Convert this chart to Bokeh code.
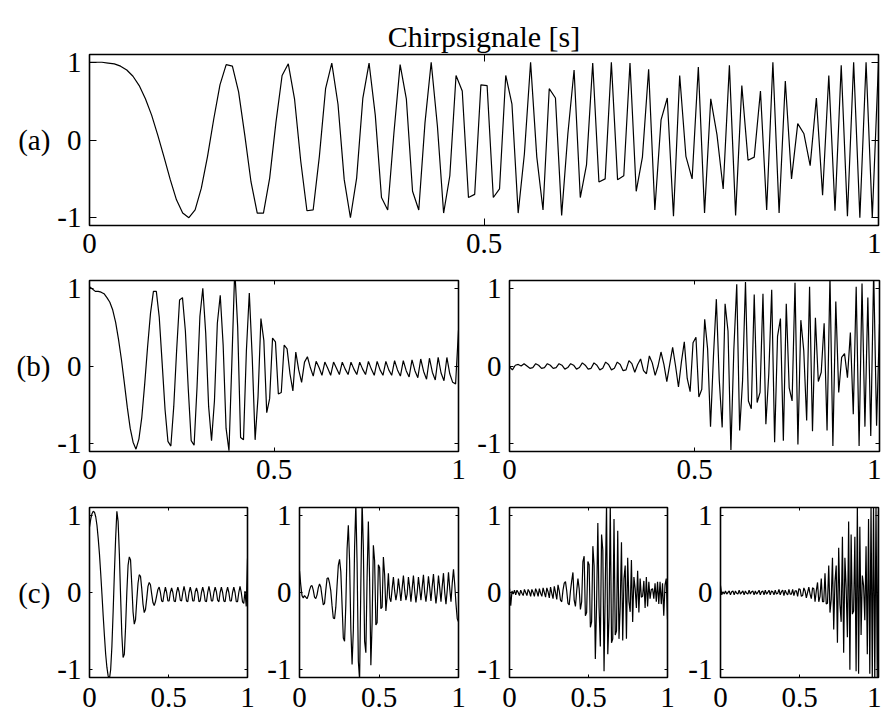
import numpy as np
from bokeh.plotting import figure
from bokeh.layouts import column, row
from bokeh.models import LinearAxis, FixedTicker, Range1d
from bokeh.embed import file_html
from bokeh.resources import INLINE

# ---- signal data (128 samples on [0, 1] each) ----
chirp = [
    1.00, 1.00, 1.00, 0.99, 0.98, 0.95, 0.90, 0.82, 0.70, 0.53, 0.32, 0.06, -0.22, -0.51, -0.77, -0.94,
    -1.00, -0.90, -0.62, -0.21, 0.27, 0.71, 0.97, 0.95, 0.62, 0.06, -0.54, -0.94, -0.94, -0.49, 0.22, 0.83,
    0.98, 0.53, -0.27, -0.91, -0.90, -0.21, 0.66, 0.99, 0.46, -0.51, -1.00, -0.49, 0.54, 0.99, 0.32, -0.74,
    -0.90, 0.09, 0.97, 0.53, -0.66, -0.90, 0.22, 1.00, 0.18, -0.94, -0.46, 0.83, 0.63, -0.74, -0.70, 0.71,
    0.70, -0.74, -0.63, 0.83, 0.46, -0.94, -0.18, 1.00, -0.22, -0.90, 0.66, 0.54, -0.97, 0.08, 0.90, -0.74,
    -0.32, 0.99, -0.54, -0.50, 1.00, -0.51, -0.46, 0.99, -0.66, -0.22, 0.91, -0.90, 0.26, 0.54, -0.98, 0.83,
    -0.21, -0.50, 0.94, -0.94, 0.53, 0.07, -0.63, 0.96, -0.97, 0.70, -0.26, -0.22, 0.63, -0.90, 1.00, -0.94,
    0.76, -0.50, 0.21, 0.08, -0.33, 0.54, -0.71, 0.83, -0.91, 0.96, -0.98, 1.00, -1.00, 1.00, -1.00, 1.00,
]

band_low = [
    1.02, 0.99, 0.96, 0.96, 0.95, 0.93, 0.88, 0.82, 0.72, 0.56, 0.34, 0.08, -0.22, -0.53, -0.80, -0.98,
    -1.07, -0.94, -0.66, -0.23, 0.25, 0.68, 0.96, 0.96, 0.63, 0.04, -0.56, -0.97, -1.03, -0.52, 0.21, 0.85,
    0.88, 0.45, -0.30, -0.96, -1.02, -0.28, 0.64, 1.00, 0.42, -0.52, -0.96, -0.45, 0.55, 0.91, 0.27, -0.80,
    -1.09, 0.05, 1.25, 0.50, -0.92, -0.95, 0.20, 0.94, 0.12, -0.95, -0.40, 0.61, 0.33, -0.60, -0.42, 0.36,
    0.31, -0.36, -0.34, 0.27, 0.22, -0.10, -0.32, 0.18, -0.05, -0.21, 0.05, 0.12, -0.02, -0.13, 0.06, -0.02,
    -0.12, 0.05, -0.03, -0.12, 0.05, -0.03, -0.11, 0.05, -0.04, -0.11, 0.05, -0.04, -0.11, 0.05, -0.04, -0.11,
    0.06, -0.04, -0.12, 0.06, -0.05, -0.12, 0.06, -0.05, -0.12, 0.07, -0.05, -0.13, 0.07, -0.06, -0.14, 0.08,
    -0.06, -0.15, 0.09, -0.07, -0.17, 0.10, -0.08, -0.18, 0.11, -0.09, -0.19, 0.11, -0.10, -0.21, -0.23, 0.46,
]

band_high = [
    -0.01, -0.05, 0.01, 0.02, 0.00, 0.03, 0.00, -0.03, -0.02, 0.03, 0.01, -0.03, -0.02, 0.03, 0.01, -0.03,
    -0.02, 0.03, 0.01, -0.04, -0.02, 0.03, 0.01, -0.04, -0.02, 0.04, 0.01, -0.04, -0.03, 0.04, 0.01, -0.05,
    -0.03, 0.05, 0.02, -0.05, -0.03, 0.05, 0.02, -0.06, -0.05, 0.07, 0.03, -0.08, 0.02, 0.09, -0.06, -0.10,
    0.13, 0.04, -0.12, 0.00, 0.18, 0.02, -0.20, 0.02, 0.24, 0.00, -0.27, 0.05, 0.31, -0.16, -0.33, 0.30,
    0.37, -0.40, -0.30, 0.60, 0.22, -0.78, 0.12, 0.86, -0.18, -0.79, 0.80, 0.45, -1.08, 0.21, 1.05, -0.83,
    -0.19, 1.08, -0.45, -0.55, 0.92, -0.47, -0.34, 0.93, -0.75, -0.10, 0.98, -0.98, 0.38, 0.61, -0.96, 0.80,
    -0.28, -0.45, 1.07, -1.01, 0.59, 0.20, -0.70, 1.02, -0.84, 0.62, -0.20, -0.08, 0.55, -0.83, 1.15, -1.03,
    0.83, -0.34, 0.11, 0.16, -0.15, 0.43, -0.62, 1.02, -1.03, 1.06, -0.78, 0.88, -0.90, 1.22, -0.77, 0.54,
]

quarter_1 = [
    0.85, 0.95, 1.02, 1.05, 1.04, 0.98, 0.87, 0.70, 0.50, 0.25, -0.02, -0.30, -0.56, -0.80, -0.97, -1.08,
    -1.12, -1.00, -0.70, -0.25, 0.25, 0.70, 1.05, 0.92, 0.50, -0.05, -0.55, -0.84, -0.80, -0.45, 0.00, 0.35,
    0.46, 0.42, 0.10, -0.25, -0.41, -0.35, -0.10, 0.12, 0.23, 0.21, 0.05, -0.15, -0.26, -0.22, -0.08, 0.08,
    0.13, 0.10, -0.02, -0.13, -0.17, -0.12, -0.04, 0.04, 0.07, 0.00, -0.11, -0.12, -0.01, 0.07, 0.00, -0.11,
    -0.11, 0.00, 0.06, 0.00, -0.11, -0.12, 0.00, 0.07, 0.01, -0.10, -0.11, 0.00, 0.08, 0.00, -0.11, -0.12,
    0.00, 0.07, 0.00, -0.11, -0.11, 0.01, 0.06, 0.00, -0.12, -0.11, 0.00, 0.07, 0.00, -0.11, -0.12, 0.00,
    0.08, 0.00, -0.11, -0.11, 0.00, 0.07, 0.01, -0.10, -0.12, 0.00, 0.07, 0.00, -0.11, -0.12, 0.00, 0.07,
    0.00, -0.11, -0.11, 0.00, 0.07, 0.00, -0.12, -0.12, 0.00, 0.08, 0.00, -0.12, -0.14, 0.02, -0.18, 0.44,
]

quarter_2 = [
    0.28, 0.10, -0.04, -0.07, -0.04, -0.06, -0.08, -0.04, 0.03, 0.08, 0.09, 0.03, -0.06, -0.08, -0.03, 0.06,
    0.11, 0.07, -0.05, -0.16, -0.14, 0.03, 0.18, 0.19, 0.12, 0.02, -0.17, -0.33, -0.34, -0.19, 0.09, 0.35,
    0.43, 0.27, -0.16, -0.59, -0.63, -0.16, 0.56, 0.87, 0.41, -0.47, -0.93, -0.49, 0.58, 1.15, 0.38, -0.89,
    -1.13, 0.11, 1.18, 0.58, -0.63, -0.78, 0.20, 0.92, 0.17, -0.94, -0.39, 0.61, 0.41, -0.42, -0.39, 0.36,
    0.32, -0.21, -0.19, 0.46, 0.23, -0.24, -0.05, 0.25, -0.07, -0.12, 0.05, 0.20, 0.02, -0.10, 0.00, 0.18,
    0.04, -0.11, 0.06, 0.22, 0.03, -0.10, -0.02, 0.20, 0.06, -0.12, 0.05, 0.22, 0.02, -0.13, 0.00, 0.20,
    0.05, -0.10, 0.07, 0.23, 0.00, -0.12, 0.02, 0.21, 0.06, -0.11, 0.08, 0.24, 0.02, -0.14, 0.00, 0.22,
    0.06, -0.12, 0.08, 0.25, 0.00, -0.15, 0.03, 0.26, 0.05, -0.12, 0.12, 0.30, 0.10, -0.15, -0.34, -0.38,
]

quarter_3 = [
    0.05, -0.17, 0.02, -0.02, 0.03, -0.03, 0.03, 0.00, -0.04, 0.03, -0.01, -0.04, 0.04, 0.00, -0.04, 0.04,
    0.01, -0.05, 0.04, 0.00, -0.05, 0.05, 0.01, -0.05, 0.05, -0.01, -0.05, 0.06, 0.00, -0.06, 0.06, 0.01,
    -0.07, 0.07, -0.01, -0.08, 0.08, 0.00, -0.09, 0.10, 0.02, -0.10, -0.12, 0.03, 0.12, 0.14, 0.02, -0.14,
    -0.16, 0.02, 0.15, 0.26, -0.10, -0.18, 0.02, 0.18, 0.05, -0.22, -0.12, 0.40, 0.47, -0.30, -0.26, 0.40,
    0.36, -0.45, -0.38, 0.60, 0.35, -0.86, -0.15, 0.90, -0.20, -0.70, 0.75, 0.55, -1.02, 0.10, 1.15, -0.80,
    -0.32, 1.15, -0.65, -0.60, 0.95, -0.55, -0.50, 0.80, -0.60, -0.18, 0.65, -0.62, 0.18, 0.35, -0.60, 0.45,
    -0.12, -0.25, 0.42, -0.38, 0.20, 0.05, -0.20, 0.28, -0.26, 0.18, -0.06, -0.05, 0.15, -0.20, 0.20, -0.18,
    0.14, -0.08, 0.04, 0.05, -0.08, 0.12, -0.12, 0.14, -0.15, 0.14, -0.15, 0.12, -0.30, 0.10, 0.18, -0.35,
]

quarter_4 = [
    0.09, -0.03, 0.01, -0.02, 0.02, -0.02, 0.00, 0.02, -0.03, 0.01, 0.02, -0.03, 0.02, -0.01, -0.02, 0.03,
    -0.02, 0.00, 0.02, -0.03, 0.02, -0.01, -0.02, 0.03, -0.02, 0.01, 0.02, -0.03, 0.02, -0.02, 0.00, 0.03,
    -0.03, 0.01, 0.02, -0.03, 0.03, -0.02, 0.00, 0.03, -0.03, 0.02, 0.01, -0.03, 0.03, -0.02, -0.01, 0.04,
    -0.03, 0.01, 0.03, -0.04, 0.03, -0.01, -0.03, 0.04, -0.02, -0.02, 0.04, -0.04, 0.02, 0.02, -0.05, 0.05,
    0.04, -0.05, -0.04, 0.06, 0.02, -0.07, 0.00, 0.07, -0.02, -0.08, 0.06, 0.05, -0.12, 0.02, 0.13, -0.12,
    -0.05, 0.18, -0.12, -0.12, 0.25, -0.15, -0.14, 0.35, -0.26, -0.09, 0.45, -0.48, 0.14, 0.35, -0.65, 0.58,
    -0.15, -0.38, 0.72, -0.78, 0.45, 0.06, -0.58, 0.92, -1.00, 0.75, -0.28, -0.24, 0.72, -1.02, 1.15, -1.05,
    0.85, -0.55, 0.22, 0.09, -0.36, 0.60, -0.80, 0.95, -1.05, 1.12, -1.12, 1.15, -1.15, 1.12, -1.10, 1.05,
]

x_ticks = [0, 0.5, 1]
x_tick_labels = ["0", "0.5", "1"]
y_ticks = [-1, 0, 1]
y_tick_labels = ["-1", "0", "1"]

FONT = "'Liberation Serif', serif"
FONT_SIZE = "29px"


def style_axis(ax, ticks, labels, tick_len, show_labels, standoff=8):
    ax.ticker = FixedTicker(ticks=ticks)
    ax.axis_line_color = None
    ax.minor_tick_line_color = None
    ax.major_tick_in = tick_len
    ax.major_tick_out = 0
    ax.major_tick_line_color = "black"
    ax.major_tick_line_width = 1
    if show_labels:
        ax.major_label_overrides = {t: s for t, s in zip(ticks, labels)}
        ax.major_label_text_font = FONT
        ax.major_label_text_font_size = FONT_SIZE
        ax.major_label_text_color = "black"
        ax.major_label_standoff = standoff
    else:
        ax.major_label_overrides = {t: "" for t in ticks}
        ax.major_label_text_font_size = "1px"
        ax.major_label_text_color = None
        ax.major_label_standoff = 0


def panel(signal, fw, fh, left, right, top, bottom, tick_len, label=None, title=None, xstand=8):
    p = figure(
        frame_width=fw, frame_height=fh,
        min_border_left=left, min_border_right=right,
        min_border_top=top, min_border_bottom=bottom,
        x_range=Range1d(0, 1), y_range=Range1d(-1.1, 1.1),
        output_backend="svg", toolbar_location=None,
        title=title,
    )
    p.background_fill_color = "white"
    p.border_fill_color = "white"
    p.outline_line_color = "black"
    p.outline_line_width = 1.6
    p.grid.visible = False

    style_axis(p.xaxis[0], x_ticks, x_tick_labels, tick_len, True, standoff=xstand)
    style_axis(p.yaxis[0], y_ticks, y_tick_labels, tick_len, True)
    top_ax = LinearAxis()
    right_ax = LinearAxis()
    style_axis(top_ax, x_ticks, x_tick_labels, tick_len, False)
    style_axis(right_ax, y_ticks, y_tick_labels, tick_len, False)
    p.add_layout(top_ax, "above")
    p.add_layout(right_ax, "right")

    if label:
        ya = p.yaxis[0]
        ya.axis_label = label
        ya.axis_label_orientation = "horizontal"
        ya.axis_label_text_font = FONT
        ya.axis_label_text_font_size = FONT_SIZE
        ya.axis_label_text_font_style = "normal"
        ya.axis_label_text_color = "black"
        ya.axis_label_standoff = 4

    if title:
        p.title.align = "center"
        p.title.text_font = FONT
        p.title.text_font_size = "30px"
        p.title.text_font_style = "normal"
        p.title.text_color = "black"
        p.title.standoff = 4

    t = np.linspace(0, 1, len(signal))
    p.line(t, signal, line_color="black", line_width=1.2)
    return p


pa = panel(chirp, 789, 171, 89, 3, 54, 42, 7, label="(a)", title="Chirpsignale [s]")

pb1 = panel(band_low, 369, 171, 89, 10, 13, 42, 4, label="(b)")
pb2 = panel(band_high, 370, 171, 41, 2, 13, 42, 4)

pc1 = panel(quarter_1, 158, 170, 89, 10, 14, 38, 3, label="(c)", xstand=10)
pc2 = panel(quarter_2, 159, 170, 42, 10, 14, 38, 3, xstand=10)
pc3 = panel(quarter_3, 158, 170, 41, 10, 14, 38, 3, xstand=10)
pc4 = panel(quarter_4, 158, 170, 43, 3, 14, 38, 3, xstand=10)

layout = column(pa, row(pb1, pb2), row(pc1, pc2, pc3, pc4))

open("out.html", "w").write(file_html(layout, INLINE))
